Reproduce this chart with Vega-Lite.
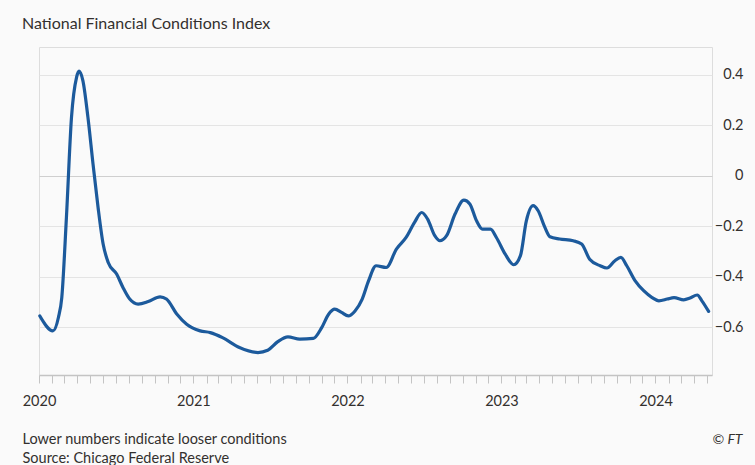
{
  "$schema": "https://vega.github.io/schema/vega-lite/v6.json",
  "width": 673,
  "height": 328,
  "autosize": {"type": "none"},
  "padding": {"left": 39, "top": 47, "right": 43, "bottom": 90},
  "background": "#fafafa",
  "title": {
    "text": "National Financial Conditions Index",
    "anchor": "start",
    "frame": "group",
    "orient": "top",
    "baseline": "alphabetic",
    "offset": 2,
    "dx": -17,
    "font": "Lato",
    "fontSize": 16,
    "fontWeight": "normal",
    "color": "#33302e"
  },
  "data": {
    "values": [
      {"date": "2020-01-03", "value": -0.556},
      {"date": "2020-02-03", "value": -0.615},
      {"date": "2020-02-16", "value": -0.562},
      {"date": "2020-02-24", "value": -0.483},
      {"date": "2020-03-06", "value": -0.165},
      {"date": "2020-03-18", "value": 0.231},
      {"date": "2020-03-30", "value": 0.39},
      {"date": "2020-04-05", "value": 0.414},
      {"date": "2020-04-14", "value": 0.377},
      {"date": "2020-04-26", "value": 0.231},
      {"date": "2020-05-08", "value": 0.047},
      {"date": "2020-05-20", "value": -0.126},
      {"date": "2020-06-01", "value": -0.271},
      {"date": "2020-06-13", "value": -0.344},
      {"date": "2020-07-03", "value": -0.39},
      {"date": "2020-07-18", "value": -0.443},
      {"date": "2020-08-03", "value": -0.489},
      {"date": "2020-08-23", "value": -0.509},
      {"date": "2020-09-16", "value": -0.499},
      {"date": "2020-10-14", "value": -0.48},
      {"date": "2020-10-29", "value": -0.489},
      {"date": "2020-11-23", "value": -0.549},
      {"date": "2020-12-16", "value": -0.589},
      {"date": "2021-01-17", "value": -0.615},
      {"date": "2021-02-10", "value": -0.622},
      {"date": "2021-03-11", "value": -0.642},
      {"date": "2021-04-20", "value": -0.681},
      {"date": "2021-06-03", "value": -0.701},
      {"date": "2021-06-26", "value": -0.692},
      {"date": "2021-07-20", "value": -0.658},
      {"date": "2021-08-13", "value": -0.639},
      {"date": "2021-09-10", "value": -0.648},
      {"date": "2021-10-12", "value": -0.645},
      {"date": "2021-11-01", "value": -0.602},
      {"date": "2021-11-17", "value": -0.55},
      {"date": "2021-12-02", "value": -0.529},
      {"date": "2021-12-18", "value": -0.542},
      {"date": "2022-01-03", "value": -0.556},
      {"date": "2022-01-19", "value": -0.536},
      {"date": "2022-02-05", "value": -0.489},
      {"date": "2022-02-20", "value": -0.417},
      {"date": "2022-03-10", "value": -0.357},
      {"date": "2022-04-03", "value": -0.364},
      {"date": "2022-04-27", "value": -0.291},
      {"date": "2022-05-20", "value": -0.245},
      {"date": "2022-06-09", "value": -0.185},
      {"date": "2022-06-26", "value": -0.146},
      {"date": "2022-07-10", "value": -0.172},
      {"date": "2022-07-27", "value": -0.238},
      {"date": "2022-08-08", "value": -0.258},
      {"date": "2022-08-24", "value": -0.238},
      {"date": "2022-09-13", "value": -0.152},
      {"date": "2022-10-04", "value": -0.097},
      {"date": "2022-10-18", "value": -0.112},
      {"date": "2022-11-03", "value": -0.179},
      {"date": "2022-11-17", "value": -0.212},
      {"date": "2022-12-06", "value": -0.212},
      {"date": "2022-12-20", "value": -0.245},
      {"date": "2023-01-10", "value": -0.311},
      {"date": "2023-01-30", "value": -0.353},
      {"date": "2023-02-15", "value": -0.317},
      {"date": "2023-03-01", "value": -0.179},
      {"date": "2023-03-17", "value": -0.119},
      {"date": "2023-03-29", "value": -0.139},
      {"date": "2023-04-14", "value": -0.205},
      {"date": "2023-04-26", "value": -0.242},
      {"date": "2023-05-19", "value": -0.251},
      {"date": "2023-06-20", "value": -0.258},
      {"date": "2023-07-10", "value": -0.271},
      {"date": "2023-07-29", "value": -0.331},
      {"date": "2023-08-23", "value": -0.357},
      {"date": "2023-09-08", "value": -0.366},
      {"date": "2023-09-27", "value": -0.337},
      {"date": "2023-10-11", "value": -0.324},
      {"date": "2023-10-25", "value": -0.357},
      {"date": "2023-11-14", "value": -0.417},
      {"date": "2023-12-04", "value": -0.456},
      {"date": "2023-12-24", "value": -0.483},
      {"date": "2024-01-09", "value": -0.496},
      {"date": "2024-01-29", "value": -0.489},
      {"date": "2024-02-14", "value": -0.483},
      {"date": "2024-03-08", "value": -0.492},
      {"date": "2024-03-23", "value": -0.485},
      {"date": "2024-04-09", "value": -0.473},
      {"date": "2024-04-20", "value": -0.496},
      {"date": "2024-05-06", "value": -0.538}
    ]
  },
  "mark": {
    "type": "line",
    "interpolate": "monotone",
    "color": "#1c5a9c",
    "strokeWidth": 3.2,
    "strokeCap": "round",
    "strokeJoin": "round"
  },
  "encoding": {
    "x": {
      "field": "date",
      "type": "temporal",
      "scale": {"domain": ["2020-01-01", "2024-05-14"]},
      "axis": {
        "orient": "bottom",
        "tickCount": {"interval": "month", "step": 1},
        "labelExpr": "month(datum.value) === 0 ? timeFormat(datum.value, '%Y') : ''",
        "labelOverlap": false,
        "labelFlush": false,
        "labelBound": false,
        "labelFont": "Lato",
        "labelFontSize": 14.5,
        "labelColor": "#33302e",
        "labelBaseline": "alphabetic",
        "labelPadding": 22,
        "tickSize": 8,
        "tickColor": "#c4c4c4",
        "tickWidth": 1,
        "domainColor": "#c4c4c4",
        "domainWidth": 1.5,
        "grid": false,
        "title": ["Lower numbers indicate looser conditions", "Source: Chicago Federal Reserve"],
        "titleFont": "Lato",
        "titleFontSize": 14.5,
        "titleFontWeight": "normal",
        "titleColor": "#33302e",
        "titleAlign": "left",
        "titleAnchor": "start",
        "titleBaseline": "alphabetic",
        "titleLineHeight": 19,
        "titleX": -17,
        "titleY": 68
      }
    },
    "y": {
      "field": "value",
      "type": "quantitative",
      "scale": {"domain": [-0.79, 0.51], "nice": false, "zero": false},
      "axis": {
        "orient": "right",
        "values": [-0.6, -0.4, -0.2, 0, 0.2, 0.4],
        "format": "~g",
        "labelFont": "Lato",
        "labelFontSize": 14.5,
        "labelColor": "#33302e",
        "labelAlign": "right",
        "labelPadding": 31,
        "ticks": false,
        "domain": false,
        "grid": true,
        "gridColor": {"expr": "datum.value === 0 ? '#cfcfcf' : '#e4e4e4'"},
        "gridWidth": 1.2,
        "title": "© FT",
        "titleFont": "Lato",
        "titleFontSize": 14,
        "titleFontStyle": "italic",
        "titleFontWeight": "normal",
        "titleColor": "#33302e",
        "titleAngle": 0,
        "titleAlign": "right",
        "titleBaseline": "alphabetic",
        "titleX": 30,
        "titleY": 396
      }
    }
  }
}
